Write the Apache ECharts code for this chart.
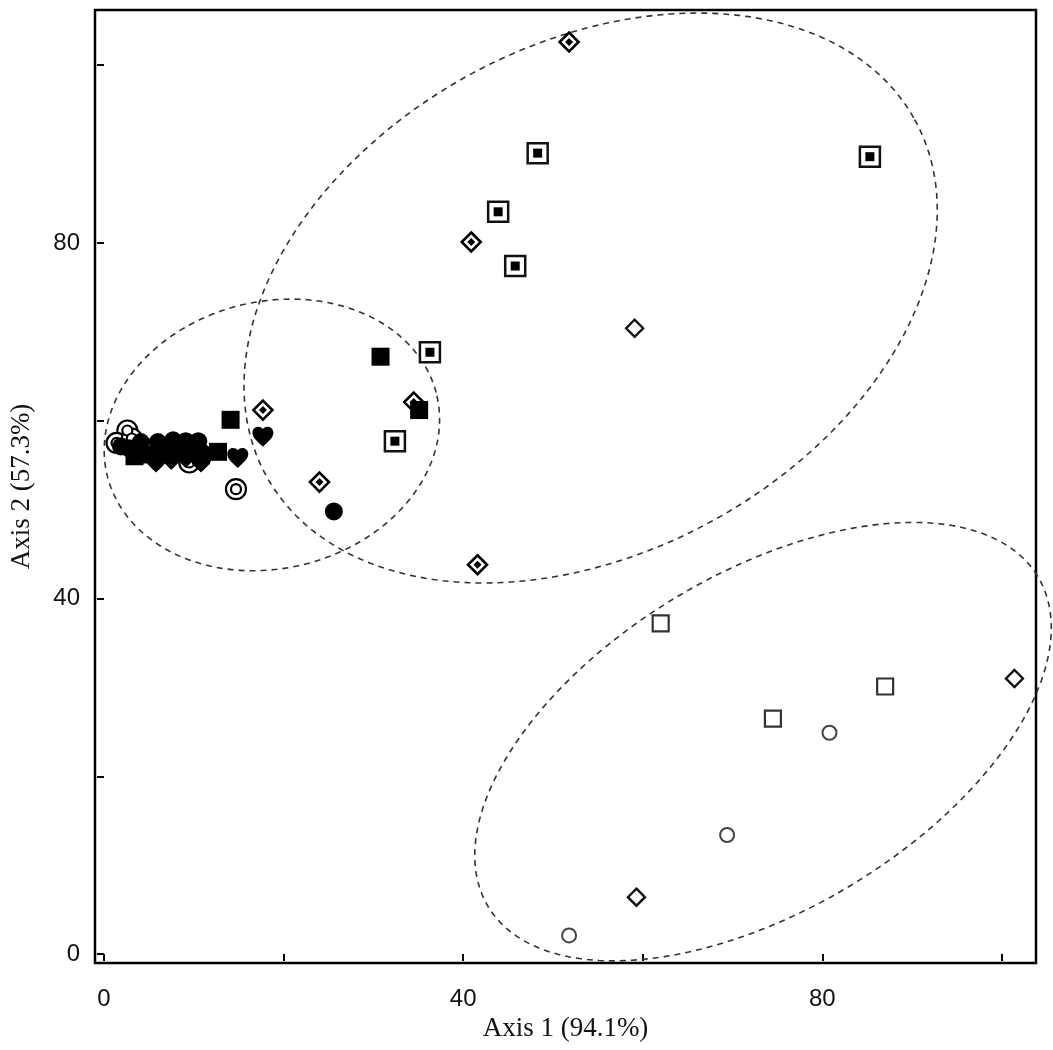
<!DOCTYPE html>
<html><head><meta charset="utf-8">
<script src="https://cdn.jsdelivr.net/npm/echarts@6/dist/echarts.min.js"></script>
<style>html,body{margin:0;padding:0;background:#fff}#c{width:1053px;height:1050px}</style>
</head><body><div id="c"></div>
<script>
// Tick values / labels
const xTicks = [0, 20, 40, 60, 80, 100];
const xLabels = [0, 40, 80];
const yTicks = [0, 20, 40, 60, 80, 100];
const yLabels = [0, 40, 80];

// Series values [axis1, axis2]
const doubleCircle = [[2.6,58.9],[1.4,57.5],[3.1,58.0],[9.5,55.3],[14.7,52.3]];
const diamondDot = [[51.8,102.6],[40.9,80.1],[17.7,61.2],[34.5,62.1],[24.0,53.1],[41.6,43.8]];
const squareDot = [[48.3,90.1],[85.3,89.7],[43.9,83.5],[45.8,77.4],[36.3,67.7],[32.4,57.7]];
const openSquare = [[62.0,37.2],[74.5,26.5],[87.0,30.1]];
const openDiamond = [[59.1,70.4],[101.4,31.0],[59.3,6.4]];
const openCircle = [[80.8,24.9],[69.4,13.4],[51.8,2.1]];
const filledSquare = [[3.4,56.0],[5.0,56.2],[6.9,56.4],[8.6,56.5],[10.0,56.5],[10.8,56.1],[12.7,56.5],[14.1,60.1],[30.8,67.2],[35.1,61.2]];
const heart = [[5.8,55.3],[7.5,55.6],[9.1,55.8],[10.8,55.3],[14.9,55.8],[17.7,58.2]];
const filledCircle = [[1.9,57.1],[2.8,56.9],[4.1,57.6],[6.0,57.6],[6.9,57.1],[7.7,57.8],[9.1,57.7],[9.7,57.1],[10.5,57.7],[10.8,56.5],[25.6,49.8]];

// Group ellipses: [centerX, centerY, semiMajor, semiMinor, angleDeg]
const ellipses = [[18.7,58.4,18.9,15.0,14.6],[54.2,73.8,41.3,28.5,29.4],[73.4,23.9,35.8,18.9,31.4]];

const heartPath = 'path://M12 21.35l-1.45-1.32C5.4 15.36 2 12.28 2 8.5 2 5.42 4.42 3 7.5 3c1.74 0 3.41.81 4.5 2.09C13.09 3.81 14.76 3 16.5 3 19.58 3 22 5.42 22 8.5c0 3.78-3.4 6.86-8.55 11.54L12 21.35z';

function renderEllipse(params, api) {
  const cx = api.value(0), cy = api.value(1), a = api.value(2), b = api.value(3);
  const th = api.value(4) * Math.PI / 180;
  const pts = [];
  for (let i = 0; i <= 240; i++) {
    const t = i / 240 * 2 * Math.PI;
    const dx = a * Math.cos(t), dy = b * Math.sin(t);
    pts.push(api.coord([cx + dx * Math.cos(th) - dy * Math.sin(th), cy + dx * Math.sin(th) + dy * Math.cos(th)]));
  }
  return { type: 'polyline', shape: { points: pts }, style: { stroke: '#333', lineWidth: 1.6, lineDash: [6, 5], fill: null } };
}

function sc(data, symbol, size, color, border, bw, z) {
  return { type: 'scatter', data: data, symbol: symbol, symbolSize: size, z: z, silent: true,
    itemStyle: { color: color, borderColor: border, borderWidth: bw, opacity: 1 } };
}

const chart = echarts.init(document.getElementById('c'), null, { renderer: 'canvas' });
chart.setOption({
  animation: false,
  backgroundColor: '#fff',
  grid: { left: 94, right: 17, top: 10, bottom: 87, show: true, borderColor: '#000', borderWidth: 2.5, containLabel: false },
  xAxis: {
    type: 'value', min: -1.0, max: 103.8,
    name: 'Axis 1 (94.1%)', nameLocation: 'middle', nameGap: 48,
    nameTextStyle: { fontFamily: 'Liberation Serif', fontSize: 27, color: '#111' },
    axisLine: { show: false },
    axisTick: { show: true, customValues: xTicks, length: 7, lineStyle: { color: '#000', width: 2 } },
    axisLabel: { customValues: xLabels, fontFamily: 'Liberation Sans', fontSize: 24, color: '#111', margin: 24 },
    splitLine: { show: false }
  },
  yAxis: {
    type: 'value', min: -1.0, max: 106.2,
    name: 'Axis 2 (57.3%)', nameLocation: 'middle', nameGap: 60, nameRotate: 90,
    nameTextStyle: { fontFamily: 'Liberation Serif', fontSize: 27, color: '#111' },
    axisLine: { show: false },
    axisTick: { show: true, customValues: yTicks, length: 7, lineStyle: { color: '#000', width: 2 } },
    axisLabel: { customValues: yLabels, fontFamily: 'Liberation Sans', fontSize: 24, color: '#111', margin: 15 },
    splitLine: { show: false }
  },
  series: [
    { type: 'custom', renderItem: renderEllipse, data: ellipses, clip: false, encode: { x: 0, y: 1 }, z: 1, silent: true },
    sc(doubleCircle, 'circle', 20, '#fff', '#000', 2.2, 2),
    sc(doubleCircle, 'circle', 10, '#fff', '#000', 2.2, 2),
    sc(diamondDot, 'diamond', 19, '#fff', '#000', 2.6, 2),
    sc(diamondDot, 'diamond', 8, '#000', '#000', 0, 2),
    sc(squareDot, 'rect', 20, '#fff', '#111', 2.5, 2),
    sc(squareDot, 'rect', 9, '#000', '#000', 0, 2),
    sc(openSquare, 'rect', 16, '#fff', '#333', 2.2, 2),
    sc(openDiamond, 'diamond', 17, '#fff', '#111', 2.4, 2),
    sc(openCircle, 'circle', 14, '#fff', '#444', 2, 2),
    sc(filledSquare, 'rect', 18, '#000', '#000', 0, 3),
    sc(heart, heartPath, [21, 20], '#000', '#000', 0, 3),
    sc(filledCircle, 'circle', 18, '#000', '#000', 0, 3)
  ]
});
</script>
</body></html>
